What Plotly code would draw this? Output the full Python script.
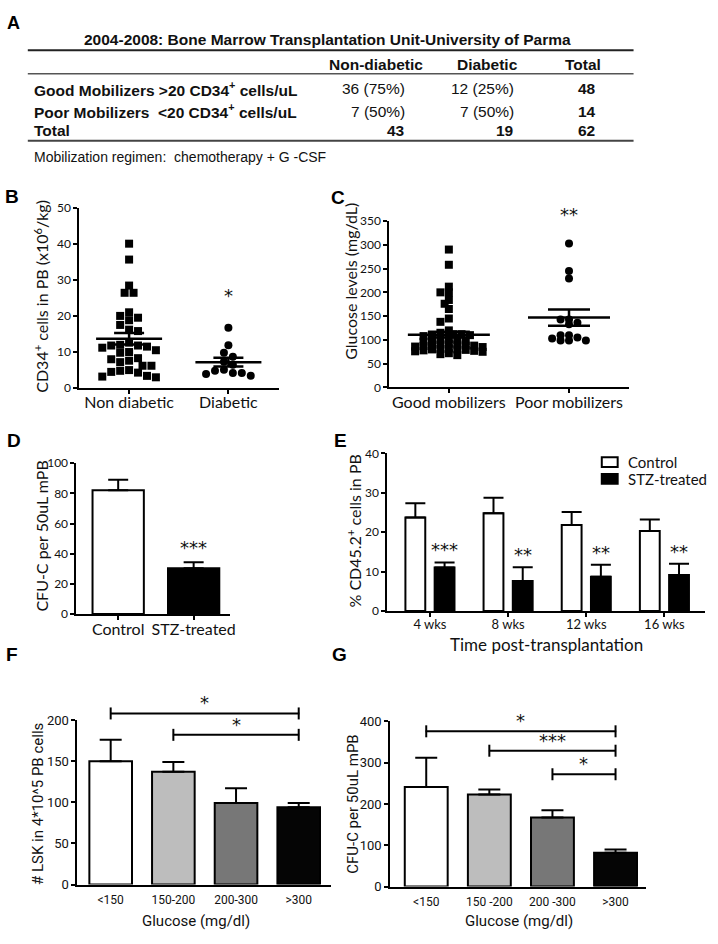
import numpy as np
import plotly.graph_objects as go

W, H = 718, 944

# ---------------- Panel A : table ----------------
table_title = "2004-2008: Bone Marrow Transplantation Unit-University of Parma"
table_cols = ["Non-diabetic", "Diabetic", "Total"]
table_rows = ["Good Mobilizers &gt;20 CD34<sup>+</sup> cells/uL",
              "Poor Mobilizers\u00a0\u00a0&lt;20 CD34<sup>+</sup> cells/uL",
              "Total"]
table_nondiab = ["36 (75%)", "7 (50%)", "43"]
table_diab = ["12 (25%)", "7 (50%)", "19"]
table_total = ["48", "14", "62"]
table_note = "Mobilization regimen:\u00a0\u00a0chemotherapy + G -CSF"

# ---------------- Panel B ----------------
b_categories = ["Non diabetic", "Diabetic"]
b_nondiabetic = [40, 35.6, 28.4, 26.4, 26.4, 21, 20, 19.5, 18.8, 17.5, 16.2, 15.8,
                 12.6, 12, 11.8, 11.8, 11.5, 11.2, 10.5, 10, 9.8, 8.3, 8.0, 7.6, 7.2,
                 6.2, 6.2, 5, 4.8, 4.5, 4.3, 3.4, 3.2, 3.0]
b_diabetic = [16.7, 11.9, 9.8, 8.7, 7.3, 6.5, 5.1, 4.8, 4.2, 4.2, 3.9, 3.4]
b_mean = [13.7, 7.2]
b_sem = [1.6, 1.2]
b_sig = ["", "*"]

# ---------------- Panel C ----------------
c_categories = ["Good mobilizers", "Poor mobilizers"]
c_good = [290, 258, 212, 200, 200, 184, 176, 165, 145, 138, 120,
          115, 112, 112, 110, 110, 108, 102, 100, 100, 98, 97, 96,
          92, 90, 90, 89, 88, 88, 87, 86, 85,
          82, 81, 80, 80, 79, 78, 77, 76, 75, 72, 70, 68]
c_poor = [303, 245, 229, 143, 136, 133, 143, 110, 105, 98.5, 98.5, 98.5, 103, 110]
c_mean = [111, 147]
c_sem = [6, 17]
c_sig = ["", "**"]

# ---------------- Panel D ----------------
d_categories = ["Control", "STZ-treated"]
d_values = [82, 30.3]
d_err = [7, 4.1]
d_colors = ["white", "black"]
d_sig = ["", "***"]

# ---------------- Panel E ----------------
e_categories = ["4 wks", "8 wks", "12 wks", "16 wks"]
e_series = ["Control", "STZ-treated"]
e_control = [23.7, 24.8, 21.8, 20.3]
e_control_err = [3.6, 3.9, 3.3, 2.9]
e_stz = [11.0, 7.6, 8.7, 9.1]
e_stz_err = [1.3, 3.5, 3.0, 2.9]
e_sig = ["***", "**", "**", "**"]

# ---------------- Panel F ----------------
f_categories = ["&lt;150", "150-200", "200-300", "&gt;300"]
f_values = [150, 137, 99, 94]
f_err = [26, 12, 18, 5]
f_brackets = [(0, 3, 208, "*"), (1, 3, 182, "*")]

# ---------------- Panel G ----------------
g_categories = ["&lt;150", "150 -200", "200 -300", "&gt;300"]
g_values = [241, 223, 167, 82]
g_err = [71, 12, 18, 8]
g_brackets = [(0, 3, 376, "*"), (1, 3, 329, "***"), (2, 3, 272, "*")]

glucose_colors = ["white", "#bdbdbd", "#777777", "#050505"]

AXF = "Lato"
CONDF = "Roboto"
STARF = "DejaVu Sans"
TXT = "#111111"
LINE_EW = 1.4   # plotly draws 'line-ew' / 'line-ns' markers 1.4 x their size long


def swarm(values, ppu_y, ppu_x, size_x, size_y):
    vals = np.asarray(values, dtype=float)
    order = np.argsort(-vals, kind="stable")
    step = size_x * 0.5
    cands = sorted([k * step for k in range(-20, 21)], key=lambda v: (abs(v), v))
    placed = []
    offs = np.zeros(len(vals))
    for i in order:
        y = vals[i] * ppu_y
        chosen = 0.0
        for c in cands:
            if all(((c - px) / size_x) ** 2 + ((y - py) / size_y) ** 2 >= 1.0 for px, py in placed):
                chosen = c
                break
        placed.append((chosen, y))
        offs[i] = chosen / ppu_x
    return offs


def xdom(a, b):
    return [a / W, b / W]


def ydom(top, bottom):
    return [1 - bottom / H, 1 - top / H]


fig = go.Figure()
ann = []
shapes = []


def pann(text, x, y, **kw):
    d = dict(text=text, x=x / W, y=1 - y / H, xref="paper", yref="paper", showarrow=False,
             xanchor="center", yanchor="middle")
    d.update(kw)
    ann.append(d)


def dann(text, x, y, xa, ya, **kw):
    d = dict(text=text, x=x, y=y, xref=xa, yref=ya, showarrow=False,
             xanchor="center", yanchor="bottom", font=dict(family=STARF, size=18, color=TXT))
    d.update(kw)
    ann.append(d)


# ---------- Panel A drawing ----------
TF = "Liberation Sans"
TS = 15.5
pann("<b>A</b>", 14, 15, font=dict(family=TF, size=18, color="black"))
pann("<b>%s</b>" % table_title, 330, 32, font=dict(family=TF, size=TS, color=TXT))
for yy, lw, col in [(43, 2, "#222"), (67, 1.5, "#555"), (135, 2, "#444")]:
    shapes.append(dict(type="line", xref="paper", yref="paper", x0=28 / W, x1=638 / W,
                       y0=1 - yy / H, y1=1 - yy / H, line=dict(color=col, width=lw)))
col_centers = [379, 491, 587]
for c, xc in zip(table_cols, col_centers):
    pann("<b>%s</b>" % c, xc, 57, font=dict(family=TF, size=TS, color=TXT))
row_y = [82, 105, 125]
for i, (lab, yy) in enumerate(zip(table_rows, row_y)):
    pann("<b>%s</b>" % lab, 32, yy, xanchor="left", font=dict(family=TF, size=TS, color=TXT))
    bold = (i == 2)
    nd = "<b>%s</b>" % table_nondiab[i] if bold else table_nondiab[i]
    dd = "<b>%s</b>" % table_diab[i] if bold else table_diab[i]
    pann(nd, 410, yy, xanchor="right", font=dict(family=TF, size=TS, color=TXT))
    pann(dd, 520, yy, xanchor="right", font=dict(family=TF, size=TS, color=TXT))
    pann("<b>%s</b>" % table_total[i], 591, yy, font=dict(family=TF, size=TS, color=TXT))
pann(table_note, 32, 152, xanchor="left", font=dict(family=TF, size=14, color=TXT))

# ---------- Panel B ----------
b_ppu_y = (386.7 - 203) / 50
b_ppu_x = 100
for i, (vals, sym) in enumerate([(b_nondiabetic, "square"), (b_diabetic, "circle")]):
    offs = swarm(vals, b_ppu_y, b_ppu_x, 9, 8)
    fig.add_trace(go.Scatter(x=i + offs, y=vals, mode="markers", xaxis="x", yaxis="y",
                             marker=dict(symbol=sym, size=8, color="black"), showlegend=False,
                             cliponaxis=False))
fig.add_trace(go.Scatter(x=[0, 1], y=b_mean, mode="markers", xaxis="x", yaxis="y",
                         marker=dict(symbol="line-ew", size=66 / LINE_EW, line=dict(width=2.5, color="black")),
                         error_y=dict(type="data", array=b_sem, width=15, thickness=2.5, color="black"),
                         showlegend=False, cliponaxis=False))
for i, s in enumerate(b_sig):
    if s:
        dann(s, i, max(b_diabetic), "x", "y", yshift=20)

# ---------- Panel C ----------
c_ppu_y = (386 - 216.7) / 350
c_ppu_x = 121
for i, (vals, sym) in enumerate([(c_good, "square"), (c_poor, "circle")]):
    offs = swarm(vals, c_ppu_y, c_ppu_x, 8.5, 4)
    fig.add_trace(go.Scatter(x=i + offs, y=vals, mode="markers", xaxis="x2", yaxis="y2",
                             marker=dict(symbol=sym, size=8, color="black"), showlegend=False,
                             cliponaxis=False))
fig.add_trace(go.Scatter(x=[0, 1], y=c_mean, mode="markers", xaxis="x2", yaxis="y2",
                         marker=dict(symbol="line-ew", size=82 / LINE_EW, line=dict(width=2.5, color="black")),
                         error_y=dict(type="data", array=c_sem, width=21, thickness=2.5, color="black"),
                         showlegend=False, cliponaxis=False))
for i, s in enumerate(c_sig):
    if s:
        dann(s, i, max(c_poor), "x2", "y2", yshift=16)

# ---------- Panel D ----------
fig.add_trace(go.Bar(x=[0, 1], y=d_values, width=0.68, xaxis="x3", yaxis="y3",
                     marker=dict(color=d_colors, line=dict(color="black", width=2)),
                     error_y=dict(type="data", array=d_err, arrayminus=[0] * len(d_err), symmetric=False,
                                  width=10, thickness=2, color="black"),
                     showlegend=False))
for i, s in enumerate(d_sig):
    if s:
        dann(s, i, d_values[i] + d_err[i], "x3", "y3", yshift=2)

# ---------- Panel E ----------
ex = np.arange(len(e_categories))
e_fill = ["white", "black"]
for k, (name, vals, errs, sh) in enumerate([(e_series[0], e_control, e_control_err, -0.187),
                                            (e_series[1], e_stz, e_stz_err, 0.187)]):
    fig.add_trace(go.Bar(x=ex + sh, y=vals, width=0.254, name=name, xaxis="x4", yaxis="y4",
                         marker=dict(color=e_fill[k], line=dict(color="black", width=2)),
                         error_y=dict(type="data", array=errs, arrayminus=[0] * len(errs), symmetric=False,
                                      width=10, thickness=2, color="black"),
                         showlegend=False))
for i, s in enumerate(e_sig):
    dann(s, i + 0.187, e_stz[i] + e_stz_err[i], "x4", "y4", yshift=0)
# legend (keys drawn beside the E panel)
for k, (name, yy) in enumerate(zip(e_series, [462, 479])):
    shapes.append(dict(type="rect", xref="paper", yref="paper", x0=606 / W, x1=622 / W,
                       y0=1 - (yy + 5) / H, y1=1 - (yy - 5) / H,
                       fillcolor=e_fill[k], line=dict(color="black", width=2)))
    pann(name, 630, yy, xanchor="left", font=dict(family=AXF, size=15, color=TXT))

# ---------- Panels F & G ----------
f_ppu_x = (333 - 78) / (3.51 + 0.53)
g_ppu_x = (651 - 393) / (3.49 + 0.57)
# F brackets sit above the F value range: they use a hidden axis pair with the same scale as F
panels_fg = [("x5", "y5", "x7", "y7", f_values, f_err, f_brackets, f_ppu_x),
             ("x6", "y6", "x6", "y6", g_values, g_err, g_brackets, g_ppu_x)]
for xa, ya, bxa, bya, vals, errs, brackets, ppu_x in panels_fg:
    fig.add_trace(go.Bar(x=np.arange(len(vals)), y=vals, width=0.68, xaxis=xa, yaxis=ya,
                         marker=dict(color=glucose_colors, line=dict(color="black", width=2)),
                         error_y=dict(type="data", array=errs, arrayminus=[0] * len(errs), symmetric=False,
                                      width=11, thickness=2, color="black"),
                         showlegend=False))
    for (a, b, yv, s) in brackets:
        fig.add_trace(go.Scatter(x=[(a + b) / 2], y=[yv], mode="markers", xaxis=bxa, yaxis=bya,
                                 marker=dict(symbol="line-ew", size=(b - a) * ppu_x / LINE_EW,
                                             line=dict(color="black", width=2)),
                                 showlegend=False, cliponaxis=False, hoverinfo="skip"))
        fig.add_trace(go.Scatter(x=[a, b], y=[yv, yv], mode="markers", xaxis=bxa, yaxis=bya,
                                 marker=dict(symbol="line-ns", size=12 / LINE_EW,
                                             line=dict(color="black", width=2)),
                                 showlegend=False, cliponaxis=False, hoverinfo="skip"))
        dann(s, (a + b) / 2, yv, bxa, bya, yshift=-2)

# ---------- panel letters & axis titles ----------
for L, x, y in [("B", 12, 192), ("C", 340, 193), ("D", 14, 440), ("E", 343, 440), ("F", 12, 658), ("G", 342, 658)]:
    pann("<b>%s</b>" % L, x, y, font=dict(family=TF, size=19, color="black"))

pann("CD34<sup>+</sup> cells in PB (x10<sup>6</sup>/kg)", 41, 293, textangle=-90,
     font=dict(family=AXF, size=16, color=TXT))
pann("Glucose levels (mg/dL)", 353, 278, textangle=-90, font=dict(family=AXF, size=16, color=TXT))
pann("CFU-C per 50uL mPB", 42, 537, textangle=-90, font=dict(family=AXF, size=16, color=TXT))
pann("% CD45.2<sup>+</sup> cells in PB", 357, 532, textangle=-90, font=dict(family=AXF, size=16, color=TXT))
pann("Time post-transplantation", 550, 647, font=dict(family=AXF, size=17, color=TXT))
pann("# LSK in 4*10^5 PB cells", 39, 810, textangle=-90, font=dict(family=CONDF, size=15, color=TXT))
pann("CFU-C per 50uL mPB", 356, 810, textangle=-90, font=dict(family=CONDF, size=15, color=TXT))
pann("Glucose (mg/dl)", 197, 929, font=dict(family=CONDF, size=15, color=TXT))
pann("Glucose (mg/dl)", 523, 929, font=dict(family=CONDF, size=15, color=TXT))

base = dict(showline=True, linecolor="black", linewidth=2, ticks="outside", tickcolor="black",
            tickwidth=2, ticklen=4, showgrid=False, zeroline=False, fixedrange=True,
            tickfont=dict(family=AXF, size=12, color=TXT))
catfont = dict(family=AXF, size=16, color=TXT)
condfont = dict(family=CONDF, size=12, color=TXT)
hidden = dict(visible=False, showgrid=False, zeroline=False, fixedrange=True)

# hidden F-bracket axes: same x as F, same y scale as F but taller so the brackets are in range
f_top_px = 700.0
f_y7_max = 200 * (891.7 - f_top_px) / (891.7 - 724.3)

fig.update_layout(
    width=W, height=H, margin=dict(l=0, r=0, t=0, b=0),
    paper_bgcolor="white", plot_bgcolor="rgba(0,0,0,0)", barmode="overlay",
    annotations=ann, shapes=shapes, showlegend=False,
    xaxis=dict(base, domain=xdom(80, 281), range=[-0.5, 1.51], anchor="y",
               tickvals=[0, 1], ticktext=b_categories, tickfont=catfont, ticklabelstandoff=-5),
    yaxis=dict(base, domain=ydom(203, 386.7), range=[0, 50], anchor="x", dtick=10),
    xaxis2=dict(base, domain=xdom(392, 633), range=[-0.496, 1.496], anchor="y2",
                tickvals=[0, 1], ticktext=c_categories, tickfont=catfont, ticklabelstandoff=-5),
    yaxis2=dict(base, domain=ydom(216.7, 386), range=[0, 350], anchor="x2", dtick=50),
    xaxis3=dict(base, domain=xdom(77, 232), range=[-0.553, 1.487], anchor="y3",
                tickvals=[0, 1], ticktext=d_categories, tickfont=catfont, ticklabelstandoff=-4),
    yaxis3=dict(base, domain=ydom(463, 616.5), range=[0, 100], anchor="x3", dtick=20),
    xaxis4=dict(base, domain=xdom(390, 710), range=[-0.546, 3.52], anchor="y4",
                tickvals=list(ex), ticktext=e_categories, tickfont=dict(family=AXF, size=13, color=TXT),
                ticklabelstandoff=-4),
    yaxis4=dict(base, domain=ydom(453, 613.3), range=[0, 40], anchor="x4", dtick=10),
    xaxis5=dict(base, domain=xdom(78, 333), range=[-0.53, 3.51], anchor="y5",
                tickvals=[0, 1, 2, 3], ticktext=f_categories, tickfont=condfont, ticks="",
                ticklabelstandoff=3),
    yaxis5=dict(base, domain=ydom(724.3, 891.7), range=[0, 200], anchor="x5", dtick=50,
                tickfont=dict(family=CONDF, size=13, color=TXT)),
    xaxis6=dict(base, domain=xdom(393, 651), range=[-0.57, 3.49], anchor="y6",
                tickvals=[0, 1, 2, 3], ticktext=g_categories, tickfont=condfont, ticks="",
                ticklabelstandoff=3),
    yaxis6=dict(base, domain=ydom(725.7, 893.7), range=[0, 400], anchor="x6", dtick=100,
                tickfont=dict(family=CONDF, size=13, color=TXT)),
    xaxis7=dict(hidden, domain=xdom(78, 333), range=[-0.53, 3.51], anchor="y7"),
    yaxis7=dict(hidden, domain=ydom(f_top_px, 891.7), range=[0, f_y7_max], anchor="x7"),
)

# remove the browser's default 8px page margin so the figure sits at the window's corner
fig.write_html("out.html", config={"displayModeBar": False},
               post_script="document.body.style.margin='0px';")
